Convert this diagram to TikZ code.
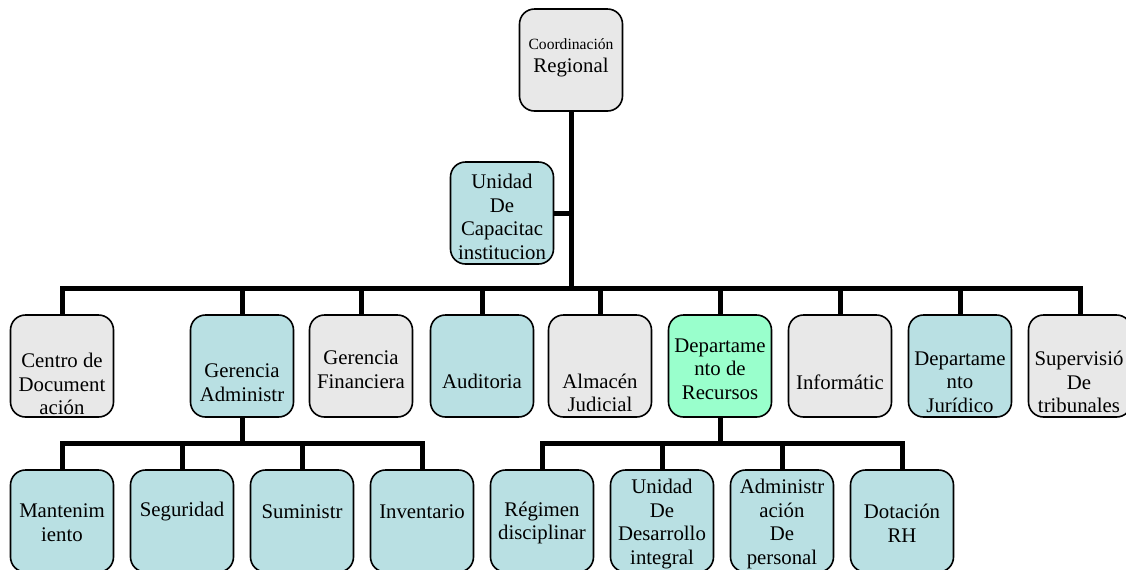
\documentclass[tikz,border=0pt]{standalone}
\usepackage{fontspec}
\setmainfont{Liberation Serif}
\usetikzlibrary{backgrounds}
\definecolor{gris}{HTML}{E8E8E8}
\definecolor{turquesa}{HTML}{B9E0E3}
\definecolor{verde}{HTML}{99FFCC}
\begin{document}
\begin{tikzpicture}[x=0.5pt,y=-0.5pt,
		caja/.style={draw,line width=0.8pt,rounded corners=7.5pt,minimum width=51.5pt,minimum height=51pt,inner sep=0pt},
		cgris/.style={caja,fill=gris},
		cturq/.style={caja,fill=turquesa},
		cverde/.style={caja,fill=verde},
		txt/.style={align=center,inner sep=0pt,font=\fontsize{10.4}{11.8}\selectfont},
		linea/.style={line width=2.5pt,line cap=rect}]
		\useasboundingbox (0,0) rectangle (1126,569);
		% Coordinacion regional
		\node[cgris] (coord) at (571,60) {};
		\node[txt] (coord-t) at (571,58) {{\fontsize{7.8}{9}\selectfont Coordinación}\\Regional};
		% Unidad de capacitacion
		\node[cturq] (unidad) at (502,213) {};
		\node[txt] (unidad-t) at (502,217) {Unidad\\De\\Capacitac\\institucion};
		% Segundo nivel
		\node[cgris] (centro) at (62,366) {};
		\node[txt] (centro-t) at (62,384) {Centro de\\Document\\ación};
		\node[cturq] (geradm) at (242,366) {};
		\node[txt] (geradm-t) at (242,383) {Gerencia\\Administr};
		\node[cgris] (gerfin) at (361,366) {};
		\node[txt] (gerfin-t) at (361,370) {Gerencia\\Financiera};
		\node[cturq] (audit) at (482,366) {};
		\node[txt] (audit-t) at (482,381) {Auditoria};
		\node[cgris] (almacen) at (600,366) {};
		\node[txt] (almacen-t) at (600,393) {Almacén\\Judicial};
		\node[cverde] (deprh) at (720,366) {};
		\node[txt] (deprh-t) at (720,369) {Departame\\nto de\\Recursos};
		\node[cgris] (inform) at (840,366) {};
		\node[txt] (inform-t) at (840,382) {Informátic};
		\node[cturq] (depjur) at (960,366) {};
		\node[txt] (depjur-t) at (960,382) {Departame\\nto\\Jurídico};
		\node[cgris] (super) at (1080,366) {};
		\node[txt] (super-t) at (1079,382) {Supervisió\\De\\tribunales};
		% Tercer nivel, gerencia administrativa
		\node[cturq] (mant) at (62,521) {};
		\node[txt] (mant-t) at (62,523) {Mantenim\\iento};
		\node[cturq] (segur) at (182,521) {};
		\node[txt] (segur-t) at (182,512) {Seguridad};
		\node[cturq] (sumin) at (302,521) {};
		\node[txt] (sumin-t) at (302,512) {Suministr};
		\node[cturq] (invent) at (422,521) {};
		\node[txt] (invent-t) at (422,512) {Inventario};
		% Tercer nivel, recursos humanos
		\node[cturq] (regim) at (542,521) {};
		\node[txt] (regim-t) at (542,523) {Régimen\\disciplinar};
		\node[cturq] (unides) at (662,521) {};
		\node[txt] (unides-t) at (662,524) {Unidad\\De\\Desarrollo\\integral};
		\node[cturq] (adminp) at (782,521) {};
		\node[txt] (adminp-t) at (782,524) {Administr\\ación\\De\\personal};
		\node[cturq] (dotac) at (902,521) {};
		\node[txt] (dotac-t) at (902,523) {Dotación\\RH};
		% Barras
		\coordinate (barra) at (572,288);
		\coordinate (barra2) at (242,443);
		\coordinate (barra3) at (721,443);
		\begin{scope}[on background layer]
			% Tronco principal
			\draw[linea] (coord.south) -- (coord |- barra);
			\draw[linea] (unidad.east) -- (unidad.east -| coord);
			\draw[linea] (centro |- barra) -- (super |- barra);
			\foreach \n in {centro,geradm,gerfin,audit,almacen,deprh,inform,depjur,super}
				\draw[linea] (\n |- barra) -- (\n.north);
			% Gerencia administrativa
			\draw[linea] (geradm.south) -- (geradm |- barra2);
			\draw[linea] (mant |- barra2) -- (invent |- barra2);
			\foreach \n in {mant,segur,sumin,invent}
				\draw[linea] (\n |- barra2) -- (\n.north);
			% Recursos humanos
			\draw[linea] (deprh.south) -- (deprh |- barra3);
			\draw[linea] (regim |- barra3) -- (dotac |- barra3);
			\foreach \n in {regim,unides,adminp,dotac}
				\draw[linea] (\n |- barra3) -- (\n.north);
		\end{scope}
	\end{tikzpicture}
\end{document}
